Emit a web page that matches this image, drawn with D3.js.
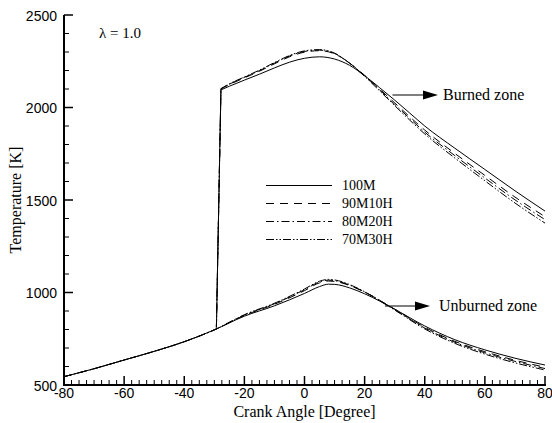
<!DOCTYPE html>
<html>
<head>
<meta charset="utf-8">
<script src="https://cdn.jsdelivr.net/npm/d3@7"></script>
<style>
html,body{margin:0;padding:0;background:#fff;}
svg{display:block;}
</style>
</head>
<body>
<svg id="chart" width="552" height="423"></svg>
<script>
// ---------------- data ----------------
const seriesNames = ["100M", "90M10H", "80M20H", "70M30H"];
const dashPatterns = ["none", "8,6", "8,3,1.5,3", "8,2,1.5,2,1.5,2"];

// Unburned zone (crank angle vs temperature)
const unburnedAngles = [-80, -70, -60, -50, -40, -30, -20, -10, 0, 5, 8, 10, 15, 20, 30, 40, 50, 60, 70, 80];
const unburned100M   = [545, 588, 635, 682, 734, 798, 872, 928, 995, 1032, 1045, 1044, 1025, 993, 910, 819, 745, 690, 645, 608];
const unburned90M10H = [545, 588, 635, 682, 734, 798, 876, 936, 1010, 1052, 1062, 1060, 1038, 1002, 910, 812, 736, 680, 634, 596];
const unburned80M20H = [545, 588, 635, 682, 734, 798, 878, 939, 1015, 1057, 1067, 1064, 1040, 1003, 908, 808, 731, 674, 628, 589];
const unburned70M30H = [545, 588, 635, 682, 734, 798, 880, 942, 1019, 1061, 1071, 1068, 1043, 1004, 905, 803, 725, 667, 620, 581];

// Burned zone: ignition jump then burned gas temperature
const ignitionAngles = [-29.3, -27.8];
const ignitionTemps  = [812, 2095];
const burnedAngles   = [-27.8, -25, -20, -15, -10, -5, 0, 5, 10, 15, 20, 25, 30, 35, 40, 50, 60, 70, 80];
const burned100M     = [2095, 2115, 2148, 2180, 2214, 2245, 2266, 2274, 2262, 2228, 2172, 2107, 2040, 1970, 1900, 1780, 1665, 1550, 1440];
const burned90M10H   = [2100, 2124, 2160, 2196, 2236, 2274, 2299, 2307, 2290, 2240, 2174, 2100, 2025, 1950, 1878, 1752, 1633, 1516, 1410];
const burned80M20H   = [2101, 2126, 2163, 2199, 2240, 2278, 2303, 2310, 2292, 2240, 2171, 2095, 2017, 1941, 1867, 1740, 1619, 1501, 1394];
const burned70M30H   = [2102, 2128, 2165, 2202, 2243, 2281, 2306, 2313, 2294, 2239, 2168, 2090, 2010, 1932, 1857, 1727, 1604, 1484, 1375];

const xTicks = [-80, -60, -40, -20, 0, 20, 40, 60, 80];
const yTicks = [500, 1000, 1500, 2000, 2500];

const unburnedSeries = [unburned100M, unburned90M10H, unburned80M20H, unburned70M30H];
const burnedSeries   = [burned100M, burned90M10H, burned80M20H, burned70M30H];

// ---------------- layout ----------------
const svg = d3.select("#chart");
const L = 64, R = 545, T = 15, B = 385;
const x = d3.scaleLinear().domain([-80, 80]).range([L, R]);
const y = d3.scaleLinear().domain([500, 2500]).range([B, T]);

const sans = "'Liberation Sans', Arial, sans-serif";
const serif = "'Liberation Serif', 'Times New Roman', serif";

// curves
const curveLine = d3.line().x(d => x(d[0])).y(d => y(d[1])).curve(d3.curveMonotoneX);
const straight = d3.line().x(d => x(d[0])).y(d => y(d[1]));

const g = svg.append("g");
seriesNames.forEach((name, i) => {
  const u = unburnedAngles.map((a, k) => [a, unburnedSeries[i][k]]);
  const jump = ignitionAngles.map((a, k) => [a, ignitionTemps[k]]);
  const b = burnedAngles.map((a, k) => [a, burnedSeries[i][k]]);
  const style = p => p.attr("fill", "none").attr("stroke", "#000").attr("stroke-width", 1)
    .attr("stroke-dasharray", dashPatterns[i] === "none" ? null : dashPatterns[i]);
  g.append("path").attr("d", curveLine(u)).call(style);
  g.append("path").attr("d", straight(jump) + curveLine(b).replace(/^M/, "L")).call(style);
});

// ---------------- axes ----------------
const ax = svg.append("g").attr("stroke", "#000");
ax.append("line").attr("x1", L).attr("x2", L).attr("y1", T).attr("y2", B + 1).attr("stroke-width", 2);
ax.append("line").attr("x1", L - 1).attr("x2", R + 1).attr("y1", B).attr("y2", B).attr("stroke-width", 2);

// x ticks (inward)
const xMinor = d3.range(-80, 80.01, 2.5).filter(v => !xTicks.includes(v));
xTicks.forEach(v => ax.append("line").attr("x1", x(v)).attr("x2", x(v)).attr("y1", B).attr("y2", B - 9).attr("stroke-width", 1.5));
xMinor.forEach(v => ax.append("line").attr("x1", x(v)).attr("x2", x(v)).attr("y1", B).attr("y2", B - 5).attr("stroke-width", 1));
// y ticks (inward)
const yMinor = d3.range(500, 2500.1, 100).filter(v => !yTicks.includes(v));
yTicks.forEach(v => ax.append("line").attr("x1", L).attr("x2", L + 9).attr("y1", y(v)).attr("y2", y(v)).attr("stroke-width", 1.5));
yMinor.forEach(v => ax.append("line").attr("x1", L).attr("x2", L + 5).attr("y1", y(v)).attr("y2", y(v)).attr("stroke-width", 1));

svg.append("g").selectAll("text").data(xTicks).join("text")
  .attr("x", d => x(d)).attr("y", 398).attr("text-anchor", "middle")
  .attr("font-family", sans).attr("font-size", 14).text(d => d);
svg.append("g").selectAll("text").data(yTicks).join("text")
  .attr("x", 57).attr("y", d => y(d) + 5.5).attr("text-anchor", "end")
  .attr("font-family", sans).attr("font-size", 14).text(d => d);

// titles
svg.append("text").attr("x", x(0)).attr("y", 417).attr("text-anchor", "middle")
  .attr("font-family", serif).attr("font-size", 16).text("Crank Angle [Degree]");
svg.append("text").attr("transform", `translate(21,${(T + B) / 2}) rotate(-90)`).attr("text-anchor", "middle")
  .attr("font-family", serif).attr("font-size", 16).text("Temperature [K]");
svg.append("text").attr("x", 99).attr("y", 37.5)
  .attr("font-family", serif).attr("font-size", 15).text("λ = 1.0");

// legend
const legY = [185.5, 203.5, 221.5, 239.5];
seriesNames.forEach((name, i) => {
  svg.append("line").attr("x1", 266).attr("x2", 332).attr("y1", legY[i]).attr("y2", legY[i])
    .attr("stroke", "#000").attr("stroke-width", 1)
    .attr("stroke-dasharray", dashPatterns[i] === "none" ? null : dashPatterns[i]);
  svg.append("text").attr("x", 342).attr("y", legY[i] + 4.5)
    .attr("font-family", serif).attr("font-size", 14).text(name);
});

// annotations
function arrow(x1, x2, yy) {
  svg.append("line").attr("x1", x1).attr("x2", x2 - 12).attr("y1", yy).attr("y2", yy)
    .attr("stroke", "#000").attr("stroke-width", 1.2);
  svg.append("path").attr("d", `M${x2 - 15},${yy - 4.5}L${x2},${yy}L${x2 - 15},${yy + 4.5}Z`).attr("fill", "#000");
}
arrow(392.5, 438, 95);
svg.append("text").attr("x", 443).attr("y", 100).attr("font-family", serif).attr("font-size", 16).text("Burned zone");
arrow(385, 430, 306);
svg.append("text").attr("x", 439).attr("y", 311).attr("font-family", serif).attr("font-size", 16).text("Unburned zone");
</script>
</body>
</html>
